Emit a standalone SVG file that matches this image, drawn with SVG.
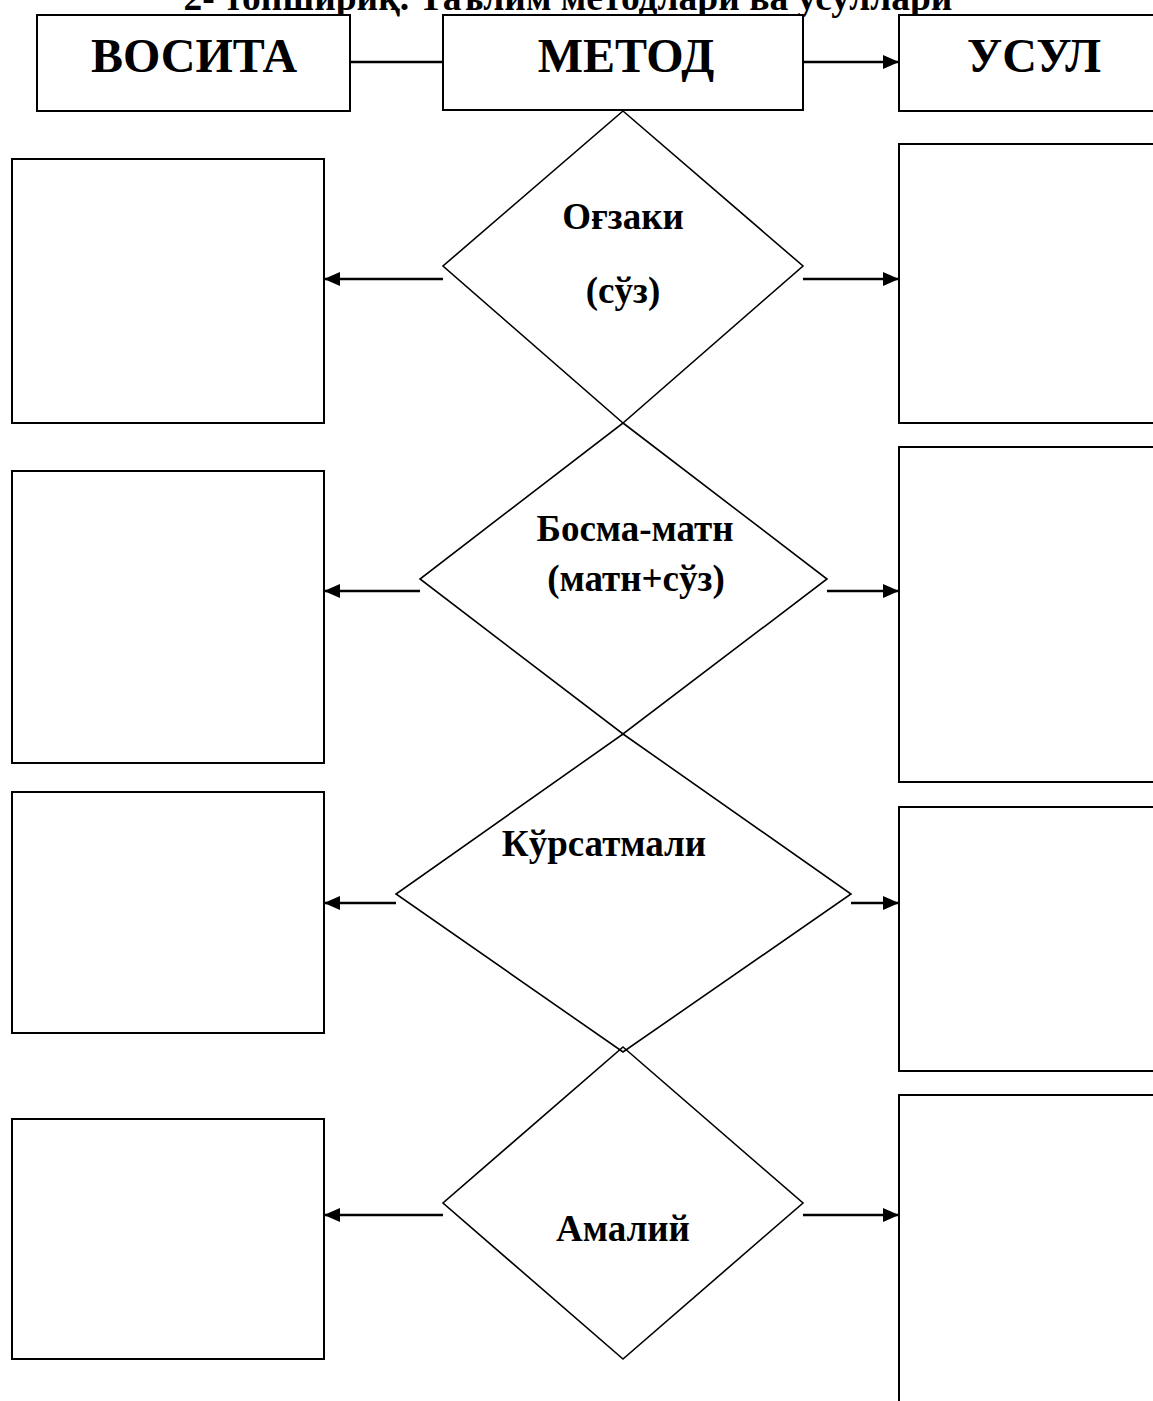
<svg xmlns="http://www.w3.org/2000/svg" width="1153" height="1401" viewBox="0 0 1153 1401">
  <style>
    .box { fill: #ffffff; stroke: #000000; stroke-width: 2; }
    .dia { fill: none; stroke: #000000; stroke-width: 1.6; }
    .conn { fill: none; stroke: #000000; stroke-width: 2.5; marker-end: url(#arrow); }
    .plain { fill: none; stroke: #000000; stroke-width: 2.5; }
    .hdr { font-family: "Liberation Serif", "Times New Roman", serif; font-weight: bold; font-size: 48px; text-anchor: middle; fill: #000; }
    .lbl { font-family: "Liberation Serif", "Times New Roman", serif; font-weight: bold; font-size: 37px; text-anchor: middle; fill: #000; }
    .title { font-family: "Liberation Serif", "Times New Roman", serif; font-weight: bold; font-size: 37.5px; text-anchor: middle; fill: #000; }
  </style>
  <defs>
    <marker id="arrow" viewBox="0 0 16 14" refX="16" refY="7" markerWidth="16" markerHeight="14" markerUnits="userSpaceOnUse" orient="auto">
      <path d="M0,0 L16,7 L0,14 z" fill="#000"/>
    </marker>
  </defs>
  <rect width="1153" height="1401" fill="#ffffff"/>

  <text id="title" class="title" x="568" y="10">2- топшириқ. Таълим методлари ва усуллари</text>

  <g id="vosita">
    <rect class="box" x="37" y="15" width="313" height="96"/>
    <text class="hdr" x="194" y="72">ВОСИТА</text>
  </g>
  <g id="metod">
    <rect class="box" x="443" y="15" width="360" height="95"/>
    <text class="hdr" x="626" y="72">МЕТОД</text>
  </g>
  <g id="usul">
    <rect class="box" x="899" y="15" width="300" height="96"/>
    <text class="hdr" x="1034" y="72">УСУЛ</text>
  </g>

  <g id="diamond-ogzaki">
    <polygon class="dia" points="623,111 803,266 623,423 443,266"/>
    <text class="lbl" x="623" y="229">Оғзаки</text>
    <text class="lbl" x="623" y="303">(сўз)</text>
  </g>
  <g id="diamond-bosma">
    <polygon class="dia" points="623,423 827,579 623,734 420,579"/>
    <text class="lbl" x="635" y="541">Босма-матн</text>
    <text class="lbl" x="636" y="591">(матн+сўз)</text>
  </g>
  <g id="diamond-kursatmali">
    <polygon class="dia" points="623,734 851,894 623,1052 396,894"/>
    <text class="lbl" x="604" y="856">Кўрсатмали</text>
  </g>
  <g id="diamond-amaliy">
    <polygon class="dia" points="623,1047 803,1203 623,1359 443,1203"/>
    <text class="lbl" x="623" y="1241">Амалий</text>
  </g>

  <g id="left-box-1"><rect class="box" x="12" y="159" width="312" height="264"/></g>
  <g id="left-box-2"><rect class="box" x="12" y="471" width="312" height="292"/></g>
  <g id="left-box-3"><rect class="box" x="12" y="792" width="312" height="241"/></g>
  <g id="left-box-4"><rect class="box" x="12" y="1119" width="312" height="240"/></g>

  <g id="right-box-1"><rect class="box" x="899" y="144" width="300" height="279"/></g>
  <g id="right-box-2"><rect class="box" x="899" y="447" width="300" height="335"/></g>
  <g id="right-box-3"><rect class="box" x="899" y="807" width="300" height="264"/></g>
  <g id="right-box-4"><rect class="box" x="899" y="1095" width="300" height="400"/></g>

  <g id="connectors">
    <line class="plain" x1="350" y1="62" x2="443" y2="62"/>
    <line class="conn" x1="803" y1="62" x2="899" y2="62"/>
    <line class="conn" x1="443" y1="279" x2="324" y2="279"/>
    <line class="conn" x1="803" y1="279" x2="899" y2="279"/>
    <line class="conn" x1="420" y1="591" x2="324" y2="591"/>
    <line class="conn" x1="827" y1="591" x2="899" y2="591"/>
    <line class="conn" x1="396" y1="903" x2="324" y2="903"/>
    <line class="conn" x1="851" y1="903" x2="899" y2="903"/>
    <line class="conn" x1="443" y1="1215" x2="324" y2="1215"/>
    <line class="conn" x1="803" y1="1215" x2="899" y2="1215"/>
  </g>
</svg>
